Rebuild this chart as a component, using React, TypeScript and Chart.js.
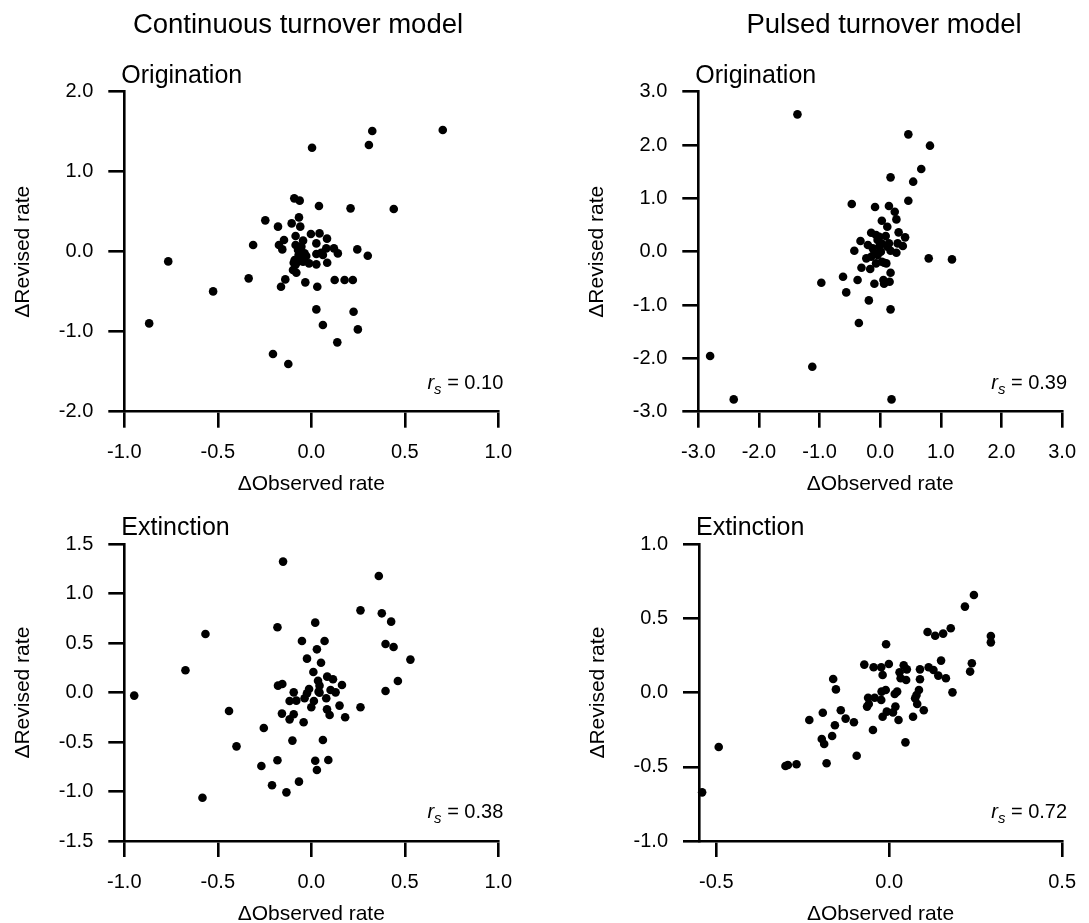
import React, { useEffect, useRef } from "react";
import { Chart, registerables } from "chart.js";
Chart.register(...registerables);

const FONT = '"Liberation Sans", Arial, Helvetica, sans-serif';

// Column titles and panel labels
const columnTitles = ["Continuous turnover model", "Pulsed turnover model"];
const rowLabels = ["Origination", "Extinction"];
const rsValues = ["0.10", "0.39", "0.38", "0.72"];

// Tick values per panel
const ticksX1 = [-1.0, -0.5, 0.0, 0.5, 1.0];
const ticksY1 = [-2.0, -1.0, 0.0, 1.0, 2.0];
const ticksX2 = [-3.0, -2.0, -1.0, 0.0, 1.0, 2.0, 3.0];
const ticksY2 = [-3.0, -2.0, -1.0, 0.0, 1.0, 2.0, 3.0];
const ticksX3 = [-1.0, -0.5, 0.0, 0.5, 1.0];
const ticksY3 = [-1.5, -1.0, -0.5, 0.0, 0.5, 1.0, 1.5];
const ticksX4 = [-0.5, 0.0, 0.5];
const ticksY4 = [-1.0, -0.5, 0.0, 0.5, 1.0];

// Data: [ΔObserved, ΔRevised]
const contOrig = [
  [0.703, 1.521], [0.326, 1.508], [0.308, 1.333], [0.004, 1.3], [-0.091, 0.667], [-0.062, 0.638],
  [0.041, 0.571], [0.21, 0.542], [0.441, 0.533], [-0.246, 0.392], [-0.066, 0.429], [-0.178, 0.313],
  [-0.105, 0.354], [-0.059, 0.313], [-0.084, 0.196], [-0.002, 0.221], [0.044, 0.229], [0.084, 0.163],
  [-0.146, 0.146], [-0.311, 0.083], [-0.173, 0.083], [-0.155, 0.029], [-0.084, 0.083], [-0.044, 0.138],
  [0.027, 0.104], [-0.071, 0.021], [-0.036, -0.021], [0.08, 0.042], [0.121, 0.042], [0.142, -0.021],
  [0.246, 0.029], [0.302, -0.05], [0.027, -0.029], [0.053, -0.013], [-0.089, -0.104], [-0.062, -0.063],
  [-0.027, -0.054], [-0.012, -0.146], [0.027, -0.158], [0.085, -0.138], [-0.098, -0.229], [-0.08, -0.263],
  [-0.036, -0.063], [-0.765, -0.121], [-0.335, -0.333], [-0.525, -0.496], [-0.139, -0.346], [-0.162, -0.438],
  [-0.032, -0.383], [0.032, -0.438], [0.125, -0.354], [0.178, -0.354], [0.222, -0.354], [0.027, -0.721],
  [0.226, -0.75], [0.062, -0.917], [0.249, -0.971], [0.139, -1.133], [-0.867, -0.896], [-0.205, -1.279],
  [-0.123, -1.404], [-0.068, -0.042], [-0.071, -0.125], [-0.085, -0.167], [-0.053, 0.063], [-0.094, -0.138],
  [-0.044, -0.125], [0.062, -0.042],
];

const pulsOrig = [
  [-1.365, 2.575], [0.464, 2.2], [0.821, 1.988], [0.677, 1.55], [0.171, 1.394], [0.544, 1.313],
  [0.464, 0.956], [-0.469, 0.894], [-0.085, 0.838], [0.144, 0.856], [0.24, 0.75], [0.267, 0.606],
  [0.027, 0.581], [0.117, 0.469], [-0.149, 0.356], [0.304, 0.363], [0.411, 0.269], [-0.069, 0.313],
  [0.091, 0.294], [-0.325, 0.2], [-0.203, 0.125], [-0.043, 0.219], [0.021, 0.156], [0.144, 0.156],
  [0.288, 0.156], [0.373, 0.106], [-0.427, 0.019], [-0.123, 0.063], [-0.016, 0.094], [0.171, 0.019],
  [0.267, -0.019], [-0.229, -0.125], [-0.149, -0.094], [-0.069, -0.219], [0.064, -0.206], [0.101, -0.219],
  [-0.309, -0.3], [-0.165, -0.325], [0.027, -0.188], [0.8, -0.125], [1.184, -0.144], [0.171, -0.394],
  [-0.613, -0.469], [-0.373, -0.531], [-0.971, -0.581], [-0.096, -0.6], [0.053, -0.531], [0.064, -0.6],
  [0.155, -0.563], [-0.56, -0.763], [-0.187, -0.913], [0.171, -1.081], [-0.352, -1.338], [-2.805, -1.956],
  [-1.12, -2.156], [-2.416, -2.769], [0.187, -2.769], [-0.043, -0.063], [-0.096, -0.031], [0.011, 0.0],
  [0.117, 0.094], [-0.016, 0.281],
];

const contExt = [
  [-0.151, 1.325], [0.361, 1.18], [0.263, 0.832], [0.377, 0.802], [0.427, 0.718], [0.021, 0.708],
  [-0.181, 0.661], [-0.566, 0.593], [-0.05, 0.522], [0.071, 0.522], [0.397, 0.492], [0.44, 0.462],
  [0.03, 0.438], [0.53, 0.334], [-0.023, 0.344], [0.052, 0.303], [-0.673, 0.226], [0.011, 0.209],
  [0.085, 0.162], [0.116, 0.135], [0.036, 0.121], [0.463, 0.118], [-0.178, 0.071], [-0.155, 0.088],
  [0.164, 0.078], [0.044, 0.071], [-0.012, 0.037], [0.103, 0.027], [0.13, 0.003], [-0.947, -0.03],
  [-0.094, 0.003], [0.397, 0.017], [-0.023, -0.007], [0.044, 0.0], [-0.036, -0.057], [0.08, -0.057],
  [-0.116, -0.084], [-0.08, -0.081], [0.014, -0.084], [0.151, -0.131], [0.0, -0.148], [0.263, -0.148],
  [0.084, -0.169], [-0.44, -0.185], [-0.157, -0.212], [-0.094, -0.219], [0.098, -0.226], [0.181, -0.249],
  [-0.116, -0.27], [-0.041, -0.3], [-0.254, -0.357], [-0.101, -0.485], [0.062, -0.479], [-0.4, -0.543],
  [-0.181, -0.684], [0.021, -0.688], [0.091, -0.681], [-0.267, -0.741], [0.03, -0.782], [-0.21, -0.937],
  [-0.066, -0.9], [-0.133, -1.008], [-0.582, -1.062], [0.039, 0.01],
];

const pulsExt = [
  [0.245, 0.658], [0.219, 0.58], [0.178, 0.434], [0.111, 0.409], [0.133, 0.384], [0.156, 0.398],
  [0.294, 0.382], [0.294, 0.339], [-0.009, 0.326], [0.15, 0.216], [0.239, 0.198], [-0.072, 0.189],
  [-0.001, 0.193], [-0.045, 0.171], [-0.023, 0.171], [0.042, 0.184], [0.114, 0.171], [0.128, 0.153],
  [0.089, 0.157], [0.234, 0.142], [-0.019, 0.119], [0.03, 0.137], [0.051, 0.157], [0.142, 0.115],
  [0.164, 0.097], [-0.162, 0.092], [0.033, 0.097], [0.049, 0.085], [0.089, 0.09], [-0.154, 0.022],
  [-0.01, 0.018], [-0.022, 0.007], [0.023, 0.007], [0.086, 0.018], [0.183, 0.002], [0.016, -0.009],
  [0.079, -0.016], [-0.061, -0.034], [-0.042, -0.034], [-0.023, -0.049], [0.075, -0.038], [-0.059, -0.076],
  [0.081, -0.076], [-0.064, -0.094], [0.018, -0.094], [-0.192, -0.135], [-0.14, -0.119], [-0.007, -0.128],
  [0.011, -0.133], [0.1, -0.119], [-0.019, -0.162], [0.069, -0.162], [0.027, -0.184], [-0.126, -0.175],
  [-0.231, -0.184], [-0.102, -0.2], [-0.157, -0.22], [-0.047, -0.252], [-0.195, -0.312], [-0.165, -0.292],
  [-0.188, -0.346], [0.047, -0.335], [-0.493, -0.366], [-0.094, -0.425], [-0.181, -0.476], [-0.3, -0.494],
  [-0.293, -0.488], [-0.268, -0.483], [-0.541, -0.672],
];

type PanelCfg = {
  cx: number; cy: number; cw: number; ch: number;
  L: number; T: number; R: number; B: number;
  xMin: number; xMax: number; yMin: number; yMax: number;
  xTicks: number[]; yTicks: number[];
  data: number[][];
  title?: string; titleX?: number;
  label: string; rs: string;
};

const panels: PanelCfg[] = [
  { cx: 0, cy: 0, cw: 545, ch: 500, L: 124.3, T: 91.7, R: 498.3, B: 411.7,
    xMin: -1, xMax: 1, yMin: -2, yMax: 2, xTicks: ticksX1, yTicks: ticksY1, data: contOrig,
    title: columnTitles[0], titleX: 298, label: rowLabels[0], rs: rsValues[0] },
  { cx: 545, cy: 0, cw: 544, ch: 500, L: 698.3, T: 91.7, R: 1073.3, B: 411.7,
    xMin: -3, xMax: 3, yMin: -3, yMax: 3, xTicks: ticksX2, yTicks: ticksY2, data: pulsOrig,
    title: columnTitles[1], titleX: 884, label: rowLabels[0], rs: rsValues[1] },
  { cx: 0, cy: 500, cw: 545, ch: 450, L: 124.3, T: 544.3, R: 498.3, B: 841,
    xMin: -1, xMax: 1, yMin: -1.5, yMax: 1.5, xTicks: ticksX3, yTicks: ticksY3, data: contExt,
    label: rowLabels[1], rs: rsValues[2] },
  { cx: 545, cy: 500, cw: 544, ch: 450, L: 699, T: 544.3, R: 1072.7, B: 841,
    xMin: -0.55, xMax: 0.5, yMin: -1, yMax: 1, xTicks: ticksX4, yTicks: ticksY4, data: pulsExt,
    label: rowLabels[1], rs: rsValues[3] },
];

const TICK_SIZE = 20;
const AXIS_TITLE_SIZE = 21;
const X_TITLE_H = 73 + (AXIS_TITLE_SIZE * 1.2) / 2;

const textPlugin = {
  id: "panelText",
  afterDraw(chart: any, _args: any, opts: any) {
    const { ctx, chartArea } = chart;
    ctx.save();
    ctx.fillStyle = "#000";
    if (opts.title) {
      ctx.font = `27.5px ${FONT}`;
      ctx.textAlign = "center";
      ctx.textBaseline = "middle";
      ctx.fillText(opts.title, opts.titleX, opts.titleY);
    }
    ctx.font = `25px ${FONT}`;
    ctx.textAlign = "left";
    ctx.textBaseline = "alphabetic";
    ctx.fillText(opts.label, chartArea.left - 3, chartArea.top - 9);

    // r_s = value, right aligned
    const base = chartArea.bottom - 30 + 7;
    const xEnd = chartArea.right + 5;
    ctx.font = `20px ${FONT}`;
    const rest = " = " + opts.rs;
    const wRest = ctx.measureText(rest).width;
    ctx.font = `italic 15px ${FONT}`;
    const wS = ctx.measureText("s").width;
    ctx.font = `italic 20px ${FONT}`;
    const wR = ctx.measureText("r").width;
    ctx.font = `20px ${FONT}`;
    ctx.fillText(rest, xEnd - wRest, base);
    ctx.font = `italic 15px ${FONT}`;
    ctx.fillText("s", xEnd - wRest - wS, base + 5);
    ctx.font = `italic 20px ${FONT}`;
    ctx.fillText("r", xEnd - wRest - wS - wR, base);
    ctx.restore();
  },
};

function Panel({ p }: { p: PanelCfg }) {
  const ref = useRef<HTMLCanvasElement | null>(null);
  useEffect(() => {
    if (!ref.current) return;
    const yWidth = p.L - p.cx;
    const padTop = p.T - p.cy;
    const padRight = p.cx + p.cw - p.R;
    const padBottom = p.cy + p.ch - p.B - X_TITLE_H;
    const yTitlePad = p.L - 101 - p.cx - (AXIS_TITLE_SIZE * 1.2) / 2;
    const tickFont = { family: FONT, size: TICK_SIZE };
    const titleFont = { family: FONT, size: AXIS_TITLE_SIZE };
    const grid = {
      display: true, drawOnChartArea: false, drawTicks: true, tickLength: 16,
      tickWidth: 2.6, tickColor: "#000", color: "#000", lineWidth: 2.6,
    };
    const border = { display: true, color: "#000", width: 2.6 };
    const chart = new Chart(ref.current, {
      type: "scatter",
      data: {
        datasets: [{
          data: p.data.map(([x, y]) => ({ x, y })),
          pointRadius: 4.3, pointHoverRadius: 4.3, pointBackgroundColor: "#000",
          pointBorderWidth: 0, borderWidth: 0, clip: false,
        } as any],
      },
      options: {
        animation: false, responsive: false, events: [],
        layout: { padding: { top: padTop, right: padRight, bottom: padBottom, left: 0 } },
        plugins: {
          legend: { display: false }, tooltip: { enabled: false },
          panelText: {
            title: p.title, titleX: (p.titleX ?? 0) - p.cx, titleY: 25 - p.cy,
            label: p.label, rs: p.rs,
          },
        } as any,
        scales: {
          x: {
            type: "linear", min: p.xMin, max: p.xMax,
            afterBuildTicks: (s: any) => { s.ticks = p.xTicks.map((v) => ({ value: v })); },
            afterFit: (s: any) => { s.height = X_TITLE_H; },
            ticks: {
              callback: (v: any) => Number(v).toFixed(1), color: "#000", font: tickFont,
              padding: 13, maxRotation: 0, autoSkip: false,
            },
            grid, border,
            title: { display: true, text: "\u0394Observed rate", color: "#000", font: titleFont, padding: 0 },
          },
          y: {
            type: "linear", min: p.yMin, max: p.yMax,
            afterBuildTicks: (s: any) => { s.ticks = p.yTicks.map((v) => ({ value: v })); },
            afterFit: (s: any) => { s.width = yWidth; },
            ticks: {
              callback: (v: any) => Number(v).toFixed(1), color: "#000", font: tickFont,
              padding: 15, autoSkip: false,
            },
            grid, border,
            title: {
              display: true, text: "\u0394Revised rate", color: "#000", font: titleFont,
              padding: { top: yTitlePad, bottom: 0 },
            },
          },
        } as any,
      },
      plugins: [textPlugin as any],
    });
    return () => chart.destroy();
  }, [p]);
  return (
    <canvas
      ref={ref}
      width={p.cw}
      height={p.ch}
      style={{ position: "absolute", left: p.cx, top: p.cy, width: p.cw, height: p.ch }}
    />
  );
}

export default function App() {
  return (
    <div style={{ position: "fixed", left: 0, top: 0, width: 1089, height: 923, overflow: "hidden", background: "#fff" }}>
      {panels.map((p, i) => <Panel key={i} p={p} />)}
    </div>
  );
}
